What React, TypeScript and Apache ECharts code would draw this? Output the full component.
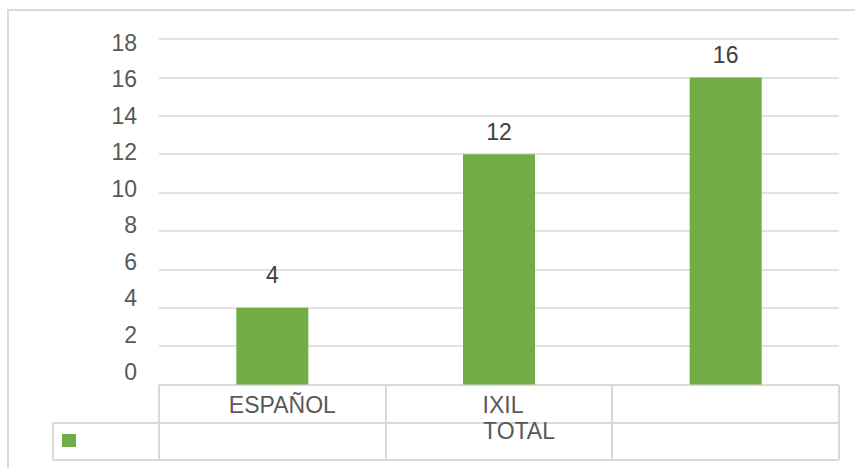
import React, { useEffect, useRef } from "react";
import * as echarts from "echarts";

const categories = ["ESPAÑOL", "IXIL", ""];
const categoryShift = [20, 8, 0];
const values = [4, 12, 16];
const labelDistances = [21, 11, 11];
const seriesName = "TOTAL";
const yMin = 0;
const yMax = 18;
const yStep = 2;

const GRID = "#d9d9d9";
const TEXT = "#595959";
const GREEN = "#70ad47";
const FONT = "Liberation Sans, Arial, sans-serif";

export default function App() {
  const ref = useRef<HTMLDivElement>(null);
  useEffect(() => {
    if (!ref.current) return;
    const chart = echarts.init(ref.current, null, { renderer: "svg" });
    const left = 159;
    const right = 839;
    const colW = (right - left) / categories.length;
    const tTop = 385;
    const tMid = 423;
    const tBot = 460;
    const legLeft = 53;
    const ln = (x1: number, y1: number, x2: number, y2: number) => ({
      type: "line",
      shape: { x1, y1, x2, y2 },
      style: { stroke: GRID, lineWidth: 2 },
      silent: true,
    });
    const tableLines: any[] = [
      ln(left, tTop, right, tTop),
      ln(legLeft, tMid, right, tMid),
      ln(legLeft, tBot, right, tBot),
      ln(legLeft, tMid, legLeft, tBot),
    ];
    for (let i = 0; i <= categories.length; i++) {
      const x = Math.round(left + i * colW);
      tableLines.push(ln(x, tTop, x, tBot));
    }
    chart.setOption({
      animation: false,
      backgroundColor: "#ffffff",
      grid: [
        { left: 159, right: 16, top: 39, bottom: 83.5, containLabel: false },
        { left: 159, right: 16, top: 42.5, bottom: 96.5, containLabel: false },
      ],
      xAxis: [
        {
          type: "category",
          gridIndex: 0,
          data: categories.map((c, i) => ({
            value: c,
            textStyle: { padding: [0, 0, 0, categoryShift[i]] },
          })),
          axisLine: { show: false },
          axisTick: { show: false },
          axisLabel: {
            color: TEXT,
            fontSize: 23,
            fontFamily: FONT,
            margin: 9,
            interval: 0,
          },
        },
        {
          type: "category",
          gridIndex: 1,
          data: categories,
          show: false,
        },
      ],
      yAxis: [
        {
          type: "value",
          gridIndex: 0,
          min: yMin,
          max: yMax,
          interval: yStep,
          axisLine: { show: false },
          axisTick: { show: false },
          axisLabel: { show: false },
          splitLine: { lineStyle: { color: GRID, width: 1.5 } },
        },
        {
          type: "value",
          gridIndex: 1,
          min: yMin,
          max: yMax,
          interval: yStep,
          axisLine: { show: false },
          axisTick: { show: false },
          splitLine: { show: false },
          axisLabel: {
            color: TEXT,
            fontSize: 23,
            fontFamily: FONT,
            margin: 22,
          },
        },
      ],
      series: [
        {
          name: seriesName,
          type: "bar",
          xAxisIndex: 0,
          yAxisIndex: 0,
          data: values.map((v, i) => ({
            value: v,
            label: { distance: labelDistances[i] },
          })),
          barWidth: 72,
          itemStyle: { color: GREEN },
          label: {
            show: true,
            position: "top",
            distance: 11,
            color: "#404040",
            fontSize: 23,
            fontFamily: FONT,
          },
        },
      ],
      graphic: [
        {
          type: "rect",
          shape: { x: 8, y: 10, width: 900, height: 500 },
          style: { fill: "none", stroke: GRID, lineWidth: 2 },
          silent: true,
          z: -1,
        },
        ...tableLines,
        {
          type: "rect",
          shape: { x: 62, y: 434, width: 14, height: 13 },
          style: { fill: GREEN },
        },
        {
          type: "text",
          x: 483,
          y: 419,
          style: {
            text: seriesName,
            fill: TEXT,
            fontSize: 23,
            fontFamily: FONT,
            textVerticalAlign: "top",
          },
        },
      ],
    });
    return () => chart.dispose();
  }, []);
  return (
    <div
      ref={ref}
      style={{ position: "absolute", left: 0, top: 0, width: 855, height: 468 }}
    />
  );
}
